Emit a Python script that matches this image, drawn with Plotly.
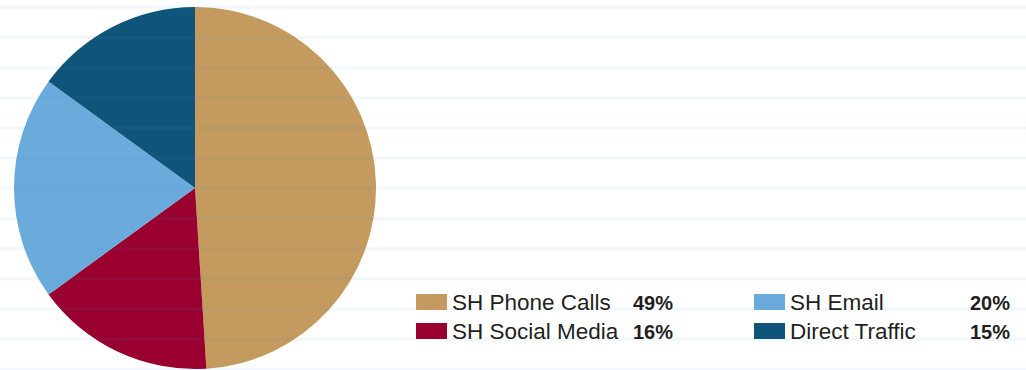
import plotly.graph_objects as go

# Traffic source shares (percent)
sources = ["SH Phone Calls", "SH Social Media", "SH Email", "Direct Traffic"]
shares = [49, 16, 20, 15]
colors = ["#c49a5e", "#990030", "#6aabdc", "#0f5479"]

# legend grid: (row, column) for each source
legend_cells = [(0, 0), (1, 0), (0, 1), (1, 1)]

W, H = 1026, 370


def px(x):
    return x / W


def py(y):
    return 1 - y / H


fig = go.Figure()

fig.add_trace(go.Pie(
    labels=sources,
    values=shares,
    sort=False,
    direction="clockwise",
    rotation=0,
    marker=dict(colors=colors, line=dict(width=0)),
    textinfo="none",
    hoverinfo="label+percent",
    showlegend=False,
    domain=dict(x=[px(14), px(376)], y=[py(369), py(7)]),
))

shapes = []
annotations = []

# faint ruled background lines drawn across the whole page
for i in range(13):
    y = 7.3 + 30.17 * i
    shapes.append(dict(
        type="line", xref="paper", yref="paper",
        x0=0, x1=1, y0=py(y), y1=py(y),
        line=dict(color="rgba(70,150,220,0.075)", width=3),
        layer="above",
    ))

# custom two-column legend with percentages
col_x = [416, 754]
pct_right = [675, 1012]
row_y = [302, 331]
for name, val, col, (r, c) in zip(sources, shares, colors, legend_cells):
    yc = row_y[r]
    shapes.append(dict(
        type="rect", xref="paper", yref="paper",
        x0=px(col_x[c]), x1=px(col_x[c] + 31),
        y0=py(yc - 8), y1=py(yc + 8),
        fillcolor=col, line=dict(width=0), layer="above",
    ))
    annotations.append(dict(
        x=px(col_x[c] + 34), y=py(yc + 0.5), xref="paper", yref="paper",
        text=name, showarrow=False, xanchor="left", yanchor="middle",
        font=dict(family="Liberation Sans, Arial, sans-serif", size=22.5, color="#231f20"),
    ))
    annotations.append(dict(
        x=px(pct_right[c]), y=py(yc + 0.5), xref="paper", yref="paper",
        text=f"<b>{val}%</b>", showarrow=False, xanchor="right", yanchor="middle",
        font=dict(family="Liberation Sans, Arial, sans-serif", size=20, color="#231f20"),
    ))

fig.update_layout(
    width=W, height=H,
    margin=dict(l=0, r=0, t=0, b=0),
    paper_bgcolor="white",
    plot_bgcolor="white",
    shapes=shapes,
    annotations=annotations,
)

fig.write_html("out.html", config={"displayModeBar": False})
